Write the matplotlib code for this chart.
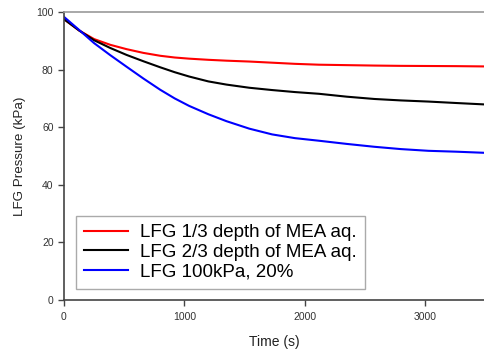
import matplotlib
matplotlib.use("Agg")
import matplotlib.pyplot as plt

plt.rcParams['font.family'] = ['Liberation Sans', 'DejaVu Sans']

time_s = [0, 125, 250, 385, 520, 660, 800, 920, 1040, 1200, 1350, 1540, 1730, 1920, 2120, 2350, 2580, 2800, 3030, 3260, 3500]
red = [97.5, 93.6, 90.6, 88.6, 87.1, 85.8, 84.8, 84.2, 83.8, 83.4, 83.1, 82.8, 82.4, 82.0, 81.7, 81.55, 81.4, 81.3, 81.25, 81.2, 81.1]
black = [97.5, 93.6, 90.2, 87.5, 85.1, 82.9, 80.8, 79.1, 77.6, 75.9, 74.8, 73.7, 72.9, 72.2, 71.6, 70.6, 69.8, 69.3, 68.9, 68.4, 67.9]
blue = [98.3, 93.8, 89.2, 85.0, 81.0, 76.9, 73.0, 70.0, 67.4, 64.5, 62.1, 59.5, 57.5, 56.2, 55.3, 54.2, 53.2, 52.4, 51.8, 51.5, 51.1]

labels = ["LFG 1/3 depth of MEA aq.", "LFG 2/3 depth of MEA aq.", "LFG 100kPa, 20%"]
xticks = [0, 1000, 2000, 3000]
yticks = [0, 20, 40, 60, 80, 100]

fig = plt.figure(figsize=(4.85, 3.52), dpi=100)
ax = fig.add_axes([64/485, 1-300/352, 1-64/485, 288/352])

ax.plot(time_s, red, color='#ff0000', lw=1.5, label=labels[0])
ax.plot(time_s, black, color='#000000', lw=1.5, label=labels[1])
ax.plot(time_s, blue, color='#0000ff', lw=1.5, label=labels[2])

ax.set_xlim(0, 3500)
ax.set_ylim(0, 100)
ax.set_xticks(xticks)
ax.set_yticks(yticks)
ax.tick_params(axis='both', direction='out', length=4, width=1, color='#444444',
               labelsize=7.5, labelcolor='#333333')
ax.tick_params(axis='x', pad=5)
for s in ['left', 'bottom']:
    ax.spines[s].set_color('#444444')
    ax.spines[s].set_linewidth(1.2)
ax.spines['top'].set_color('#999999')
ax.spines['top'].set_linewidth(1.2)
ax.spines['right'].set_visible(False)

ax.set_xlabel("Time (s)", fontsize=10, color='#222222', labelpad=9)
ax.set_ylabel("LFG Pressure (kPa)", fontsize=9.6, color='#222222', labelpad=7)

leg = ax.legend(loc='lower left', bbox_to_anchor=(0.0285, 0.038), fontsize=13.5,
                frameon=True, fancybox=False, edgecolor='#aaaaaa', framealpha=1,
                handlelength=2.35, labelspacing=0.13, borderpad=0.45, handletextpad=0.6,
                borderaxespad=0)
leg.get_frame().set_linewidth(1.0)

fig.savefig("out.png", dpi=100)
